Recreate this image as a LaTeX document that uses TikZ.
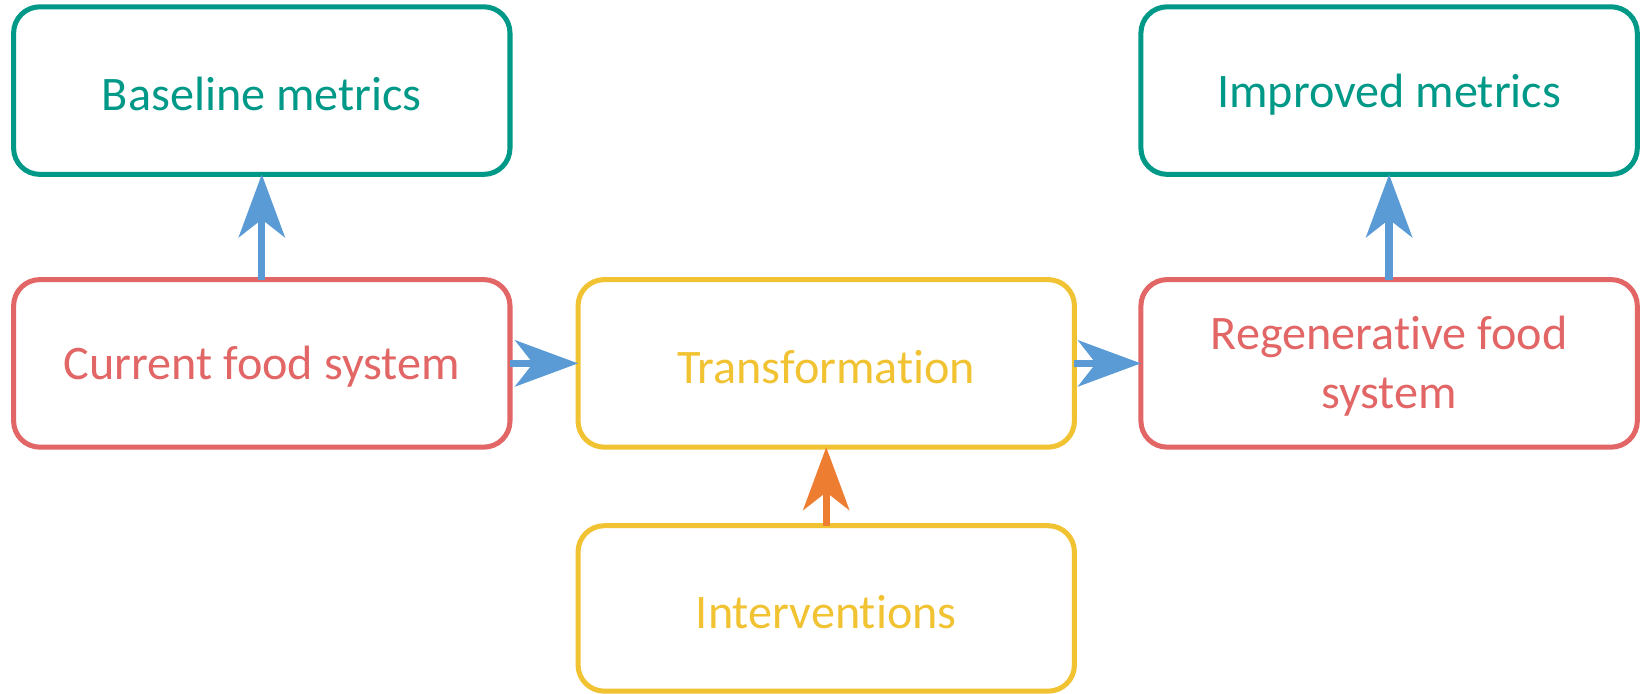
\documentclass[tikz,border=0pt]{standalone}
\usepackage{fontspec}
\setmainfont{Carlito}[Ligatures={NoCommon}]
\usetikzlibrary{arrows.meta}
\definecolor{tealc}{RGB}{0,152,135}
\definecolor{redc}{RGB}{226,102,102}
\definecolor{yellowc}{RGB}{241,194,50}
\definecolor{bluec}{RGB}{91,155,213}
\definecolor{orangec}{RGB}{237,125,49}
\newcommand{\lowtxt}[1]{\raisebox{-3.5pt}[\height][\depth]{#1}}
\begin{document}
\begin{tikzpicture}[x=1pt,y=-1pt,
  box/.style={draw, line width=4.8pt, rounded corners=25pt, minimum width=474pt, minimum height=160pt, outer sep=0pt, inner sep=0pt, align=center, font=\fontsize{46}{56}\selectfont},
  tealbox/.style={box, draw=tealc, text=tealc},
  redbox/.style={box, draw=redc, text=redc},
  yelbox/.style={box, draw=yellowc, text=yellowc},
  arr/.style={line width=7pt, -{Stealth[length=60pt,width=44pt,inset=17pt]}},
]
\useasboundingbox (0,0) rectangle (1568,662);
\node[tealbox] (base) at (250,86.5) {\lowtxt{Baseline metrics}};
\node[tealbox] (impr) at (1326.5,86.5) {\lowtxt{Improved metrics}};
\node[redbox] (cur) at (250,347) {\lowtxt{Current food system}};
\node[yelbox] (trans) at (789,347) {\lowtxt{Transformation}};
\node[redbox] (regen) at (1326.5,347) {\lowtxt{\begin{tabular}{@{}c@{}}Regenerative food\\system\end{tabular}}};
\node[yelbox, minimum height=158pt] (inter) at (789,581) {\lowtxt{Interventions}};
\draw[arr, bluec] (cur.north) -- (base.south);
\draw[arr, bluec] (regen.north) -- (impr.south);
\draw[arr, bluec] (cur.east) -- (trans.west);
\draw[arr, bluec] (trans.east) -- (regen.west);
\draw[arr, orangec] (inter.north) -- (trans.south);
\end{tikzpicture}
\end{document}
